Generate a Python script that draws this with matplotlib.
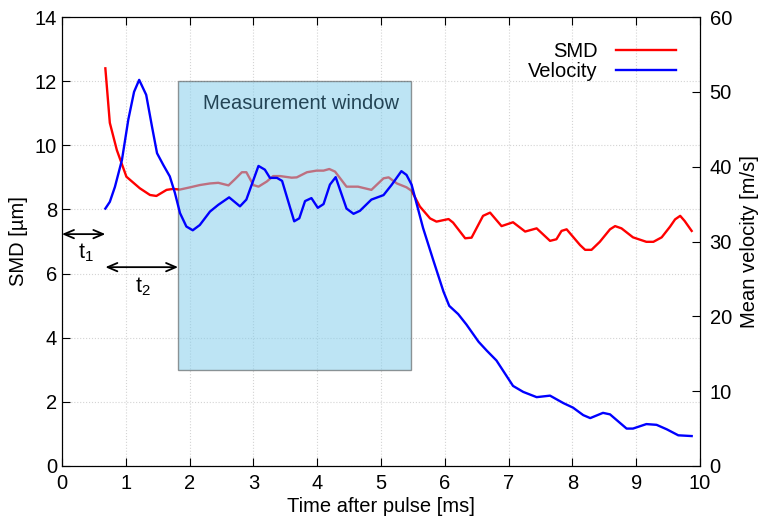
import matplotlib
matplotlib.use("Agg")
import matplotlib.pyplot as plt
from matplotlib.patches import Rectangle

plt.rcParams['font.family'] = ['Liberation Sans', 'DejaVu Sans']

# SMD [um] vs time [ms]
smd_t = [0.68, 0.75, 0.86, 1.01, 1.22, 1.38, 1.48, 1.64, 1.74, 1.85, 2.01, 2.16, 2.32, 2.45,
         2.61, 2.71, 2.82, 2.89, 3.0, 3.08, 3.21, 3.31, 3.42, 3.6, 3.68, 3.84, 3.99, 4.1,
         4.19, 4.28, 4.46, 4.64, 4.85, 5.04, 5.12, 5.25, 5.4, 5.48, 5.61, 5.77, 5.87, 6.06,
         6.13, 6.32, 6.42, 6.6, 6.71, 6.89, 7.07, 7.26, 7.44, 7.65, 7.75, 7.83, 7.91, 8.12,
         8.2, 8.3, 8.43, 8.59, 8.67, 8.77, 8.95, 9.16, 9.27, 9.4, 9.53, 9.61, 9.69, 9.76, 9.87]
smd = [12.4, 10.7, 9.85, 9.02, 8.66, 8.45, 8.42, 8.61, 8.64, 8.62, 8.69, 8.76, 8.81, 8.83,
       8.75, 8.94, 9.16, 9.16, 8.76, 8.71, 8.87, 9.04, 9.04, 8.99, 9.0, 9.16, 9.21, 9.21,
       9.26, 9.18, 8.71, 8.71, 8.61, 8.97, 9.0, 8.81, 8.69, 8.58, 8.09, 7.72, 7.62, 7.7,
       7.59, 7.1, 7.12, 7.8, 7.9, 7.48, 7.6, 7.31, 7.41, 7.02, 7.07, 7.33, 7.38, 6.89,
       6.74, 6.74, 6.99, 7.38, 7.48, 7.41, 7.13, 6.99, 6.99, 7.13, 7.46, 7.69, 7.8, 7.64, 7.33]

# Mean velocity [m/s] vs time [ms]
vel_t = [0.68, 0.75, 0.83, 0.94, 1.04, 1.13, 1.21, 1.32, 1.41, 1.49, 1.59, 1.69, 1.77, 1.85,
         1.95, 2.05, 2.16, 2.32, 2.45, 2.62, 2.79, 2.89, 3.08, 3.18, 3.26, 3.37, 3.45, 3.64,
         3.72, 3.81, 3.91, 4.01, 4.1, 4.2, 4.29, 4.46, 4.57, 4.67, 4.85, 5.04, 5.17, 5.32,
         5.4, 5.48, 5.66, 5.82, 5.98, 6.07, 6.21, 6.34, 6.53, 6.66, 6.81, 6.94, 7.07, 7.23,
         7.44, 7.65, 7.86, 8.01, 8.17, 8.28, 8.48, 8.59, 8.85, 8.95, 9.16, 9.32, 9.48, 9.66, 9.87]
vel = [34.4, 35.3, 37.3, 40.9, 46.3, 50.0, 51.6, 49.6, 45.4, 41.8, 40.2, 38.7, 36.5, 33.8,
       32.0, 31.5, 32.2, 34.0, 34.9, 35.9, 34.7, 35.6, 40.1, 39.6, 38.5, 38.5, 38.1, 32.7,
       33.1, 35.4, 35.8, 34.5, 35.0, 37.6, 38.6, 34.4, 33.7, 34.1, 35.6, 36.2, 37.6, 39.4,
       38.9, 37.6, 31.8, 27.5, 23.3, 21.4, 20.3, 18.9, 16.6, 15.4, 14.1, 12.4, 10.7, 9.9,
       9.2, 9.4, 8.4, 7.8, 6.8, 6.4, 7.1, 6.9, 5.0, 5.0, 5.6, 5.5, 4.9, 4.1, 4.0]

win_start, win_end = 1.82, 5.47
win_low, win_high = 3.0, 12.0

fs = 14.5

fig = plt.figure(figsize=(7.67, 5.25), dpi=100)
ax1 = fig.add_axes([0.0808, 0.1124, 0.8318, 0.8552])
ax2 = ax1.twinx()

l1, = ax1.plot(smd_t, smd, color='#ff0000', lw=1.7, zorder=2)
ax1.add_patch(Rectangle((win_start, win_low), win_end - win_start, win_high - win_low,
                        facecolor='#87ceeb', alpha=0.55, edgecolor='#444444', lw=1, zorder=3))
ax1.text((win_start + win_end) / 2 + 0.1, 11.3, "Measurement window", ha='center',
         va='center', fontsize=fs, color='#234455', zorder=4)

l2, = ax2.plot(vel_t, vel, color='#0000ff', lw=1.7)

# time markers
arrow = dict(arrowstyle='<->,head_length=0.7,head_width=0.3', color='black', lw=1.3,
             shrinkA=0, shrinkB=0)
ax1.annotate('', xy=(0, 7.23), xytext=(0.68, 7.23), arrowprops=arrow)
ax1.text(0.38, 6.65, r'$\mathregular{t_1}$', ha='center', va='center', fontsize=fs + 1)
ax1.annotate('', xy=(0.68, 6.2), xytext=(1.82, 6.2), arrowprops=arrow)
ax1.text(1.27, 5.6, r'$\mathregular{t_2}$', ha='center', va='center', fontsize=fs + 1)

ax1.set_xlim(0, 10)
ax1.set_ylim(0, 14)
ax2.set_ylim(0, 60)
ax1.set_xticks(range(0, 11))
ax1.set_yticks(range(0, 15, 2))
ax2.set_yticks(range(0, 61, 10))

ax1.grid(True, color='#d4d4d4', linestyle=':', lw=0.8)
ax1.tick_params(direction='in', top=True, right=False, labelsize=fs, length=6)
ax1.tick_params(axis='x', pad=6)
ax2.tick_params(direction='in', labelsize=fs, length=6, pad=7)

ax1.set_xlabel('Time after pulse [ms]', fontsize=fs, labelpad=3)
ax1.set_ylabel('SMD [µm]', fontsize=fs, labelpad=5)
ax2.set_ylabel('Mean velocity [m/s]', fontsize=fs, labelpad=6)

ax2.legend([l1, l2], ['SMD', 'Velocity'], loc='upper right', frameon=False,
           markerfirst=False, fontsize=fs, handlelength=3.0,
           bbox_to_anchor=(0.985, 0.975), borderaxespad=0.3,
           labelspacing=0.02, handletextpad=0.9)

fig.savefig('out.png', dpi=100)
